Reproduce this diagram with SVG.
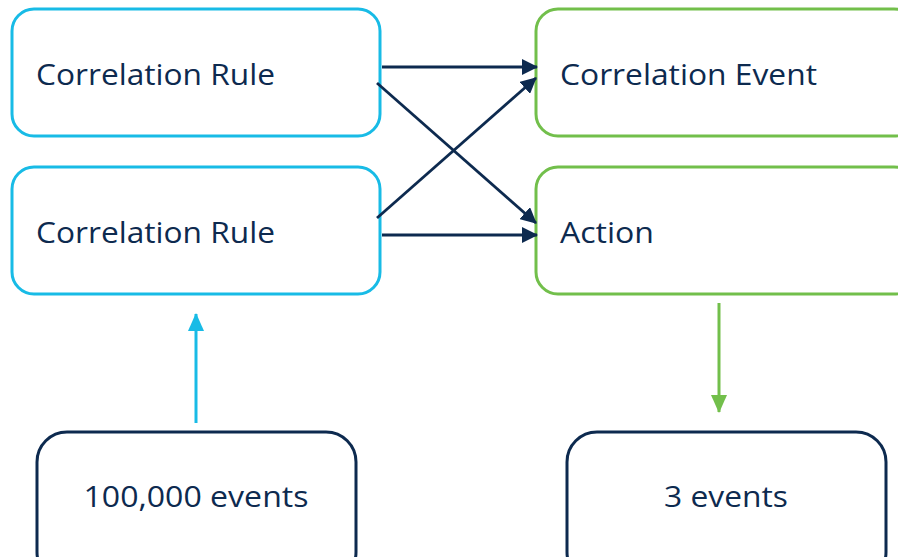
<svg xmlns="http://www.w3.org/2000/svg" width="898" height="557" viewBox="0 0 898 557">
<style>
.blue{fill:#fff;stroke:#18BBE6;stroke-width:3}
.green{fill:#fff;stroke:#72BF4B;stroke-width:3}
.navy{fill:#fff;stroke:#0D2A4F;stroke-width:3}
.t{font-family:"Open Sans","Liberation Sans",sans-serif;font-size:29px;fill:#0D2A4F}
</style>
<defs>
<marker id="mk" viewBox="0 0 16 16" refX="15" refY="8" markerWidth="16" markerHeight="16" markerUnits="userSpaceOnUse" orient="auto">
<path d="M0,0 L16,8 L0,16 z" fill="#0D2A4F"/>
</marker>
<marker id="mb" viewBox="0 0 18 16" refX="17" refY="8" markerWidth="18" markerHeight="16" markerUnits="userSpaceOnUse" orient="auto">
<path d="M0,0 L18,8 L0,16 z" fill="#18BBE6"/>
</marker>
<marker id="mg" viewBox="0 0 18 16" refX="17" refY="8" markerWidth="18" markerHeight="16" markerUnits="userSpaceOnUse" orient="auto">
<path d="M0,0 L18,8 L0,16 z" fill="#72BF4B"/>
</marker>
</defs>
<g id="rule1"><rect class="blue" x="12" y="9" width="368" height="127" rx="22"/><text class="t" x="36" y="85" textLength="239" lengthAdjust="spacingAndGlyphs">Correlation Rule</text></g>
<g id="rule2"><rect class="blue" x="12" y="167" width="368" height="127" rx="22"/><text class="t" x="36" y="243" textLength="239" lengthAdjust="spacingAndGlyphs">Correlation Rule</text></g>
<g id="event"><rect class="green" x="536" y="9" width="380" height="127" rx="22"/><text class="t" x="560" y="85" textLength="257" lengthAdjust="spacingAndGlyphs">Correlation Event</text></g>
<g id="action"><rect class="green" x="536" y="167" width="380" height="127" rx="22"/><text class="t" x="560" y="243" textLength="94" lengthAdjust="spacingAndGlyphs">Action</text></g>
<g id="in"><rect class="navy" x="37" y="432" width="319" height="150" rx="30"/><text class="t" x="196" y="507" text-anchor="middle" textLength="225" lengthAdjust="spacingAndGlyphs">100,000 events</text></g>
<g id="out"><rect class="navy" x="567" y="432" width="319" height="150" rx="30"/><text class="t" x="726" y="507" text-anchor="middle" textLength="124" lengthAdjust="spacingAndGlyphs">3 events</text></g>
<g id="connectors" fill="none">
<line x1="382" y1="67" x2="537" y2="67" stroke="#0D2A4F" stroke-width="2.8" marker-end="url(#mk)"/>
<line x1="377" y1="83" x2="536" y2="223" stroke="#0D2A4F" stroke-width="2.8" marker-end="url(#mk)"/>
<line x1="377" y1="218" x2="536" y2="78" stroke="#0D2A4F" stroke-width="2.8" marker-end="url(#mk)"/>
<line x1="382" y1="235" x2="537" y2="235" stroke="#0D2A4F" stroke-width="2.8" marker-end="url(#mk)"/>
<line x1="196" y1="423" x2="196" y2="314" stroke="#18BBE6" stroke-width="3" marker-end="url(#mb)"/>
<line x1="719" y1="303" x2="719" y2="412" stroke="#72BF4B" stroke-width="3" marker-end="url(#mg)"/>
</g>
</svg>
